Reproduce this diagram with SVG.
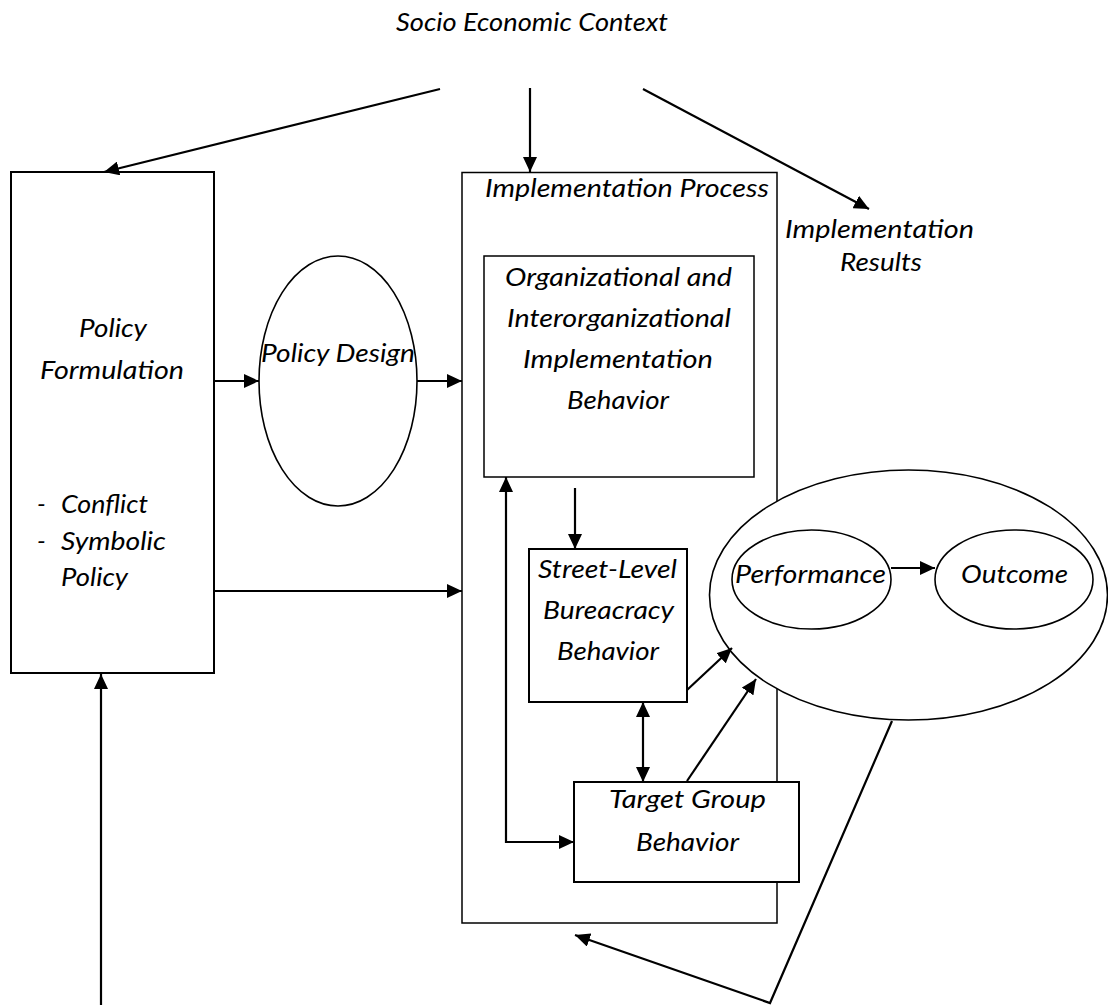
<svg xmlns="http://www.w3.org/2000/svg" width="1108" height="1005" viewBox="0 0 1108 1005">
<style>
  .t { font-family: Lato, "Open Sans", "Liberation Sans", sans-serif; font-style: italic; font-size: 25px; fill: #000; }
  .box { fill: #fff; stroke: #000; stroke-width: 2; }
  .thin { fill: #fff; stroke: #000; stroke-width: 1.5; }
  .ell { fill: #fff; stroke: #000; stroke-width: 1.6; }
  .c { fill: none; stroke: #000; stroke-width: 2.2; }
  .ah { marker-end: url(#ah); }
</style>
<defs>
  <marker id="ah" markerWidth="16" markerHeight="14" refX="15" refY="7" orient="auto-start-reverse" markerUnits="userSpaceOnUse">
    <path d="M0,0 L15,7 L0,14 z" fill="#000"/>
  </marker>
</defs>
<rect width="1108" height="1005" fill="#fff"/>

<g id="title">
  <text class="t" x="396" y="31" textLength="272" lengthAdjust="spacingAndGlyphs">Socio Economic Context</text>
</g>

<g id="policy-formulation">
  <rect class="box" x="11" y="172" width="203" height="501"/>
  <text class="t" x="79" y="337" textLength="68" lengthAdjust="spacingAndGlyphs">Policy</text>
  <text class="t" x="40" y="379" textLength="144" lengthAdjust="spacingAndGlyphs">Formulation</text>
  <text class="t" x="37" y="513">-</text>
  <text class="t" x="61" y="513" textLength="87" lengthAdjust="spacingAndGlyphs">Conflict</text>
  <text class="t" x="37" y="550">-</text>
  <text class="t" x="61" y="550" textLength="105" lengthAdjust="spacingAndGlyphs">Symbolic</text>
  <text class="t" x="61" y="586" textLength="67" lengthAdjust="spacingAndGlyphs">Policy</text>
</g>

<g id="implementation-process">
  <rect class="thin" x="462" y="172.5" width="315" height="750.5"/>
  <text class="t" x="485" y="197" textLength="284" lengthAdjust="spacingAndGlyphs">Implementation Process</text>
</g>

<g id="org-behavior">
  <rect class="thin" x="484" y="256" width="270" height="221"/>
  <text class="t" x="505" y="286" textLength="227" lengthAdjust="spacingAndGlyphs">Organizational and</text>
  <text class="t" x="507" y="327" textLength="224" lengthAdjust="spacingAndGlyphs">Interorganizational</text>
  <text class="t" x="523" y="368" textLength="190" lengthAdjust="spacingAndGlyphs">Implementation</text>
  <text class="t" x="567" y="409" textLength="102" lengthAdjust="spacingAndGlyphs">Behavior</text>
</g>

<g id="street-level">
  <rect class="box" x="529" y="549" width="158" height="153"/>
  <text class="t" x="538" y="578" textLength="139" lengthAdjust="spacingAndGlyphs">Street-Level</text>
  <text class="t" x="543" y="619" textLength="131" lengthAdjust="spacingAndGlyphs">Bureacracy</text>
  <text class="t" x="557" y="660" textLength="102" lengthAdjust="spacingAndGlyphs">Behavior</text>
</g>

<g id="target-group">
  <rect class="box" x="574" y="782" width="225" height="100"/>
  <text class="t" x="609" y="808" textLength="157" lengthAdjust="spacingAndGlyphs">Target Group</text>
  <text class="t" x="636" y="851" textLength="103" lengthAdjust="spacingAndGlyphs">Behavior</text>
</g>

<g id="policy-design">
  <ellipse class="ell" cx="338" cy="381" rx="79" ry="125"/>
  <text class="t" x="261" y="362" textLength="154" lengthAdjust="spacingAndGlyphs">Policy Design</text>
</g>

<g id="implementation-results">
  <text class="t" x="785" y="238" textLength="189" lengthAdjust="spacingAndGlyphs">Implementation</text>
  <text class="t" x="840" y="271" textLength="82" lengthAdjust="spacingAndGlyphs">Results</text>
  <ellipse class="ell" cx="908.5" cy="595" rx="199" ry="125"/>
</g>

<g id="performance">
  <ellipse class="ell" cx="811.5" cy="579.5" rx="79.5" ry="49.5"/>
  <text class="t" x="735" y="583" textLength="151" lengthAdjust="spacingAndGlyphs">Performance</text>
</g>

<g id="outcome">
  <ellipse class="ell" cx="1014" cy="579.5" rx="79" ry="49.5"/>
  <text class="t" x="961" y="583" textLength="107" lengthAdjust="spacingAndGlyphs">Outcome</text>
</g>

<g id="connectors">
  <line class="c ah" x1="440" y1="89" x2="104" y2="172"/>
  <line class="c ah" x1="530" y1="88" x2="530" y2="172"/>
  <line class="c ah" x1="643" y1="89" x2="869" y2="209"/>
  <line class="c ah" x1="214" y1="381" x2="259" y2="381"/>
  <line class="c ah" x1="417" y1="381" x2="462" y2="381"/>
  <line class="c ah" x1="214" y1="591" x2="462" y2="591"/>
  <line class="c ah" x1="575" y1="488" x2="575" y2="549"/>
  <path class="c" d="M506,477 V842 H574" marker-start="url(#ah)" marker-end="url(#ah)"/>
  <line class="c" x1="643" y1="702" x2="643" y2="782" marker-start="url(#ah)" marker-end="url(#ah)"/>
  <line class="c ah" x1="687" y1="690" x2="732" y2="648"/>
  <line class="c ah" x1="687" y1="781" x2="756" y2="679"/>
  <line class="c ah" x1="891" y1="568" x2="935" y2="568"/>
  <path class="c ah" d="M892,721 L770,1003 L575,935"/>
  <line class="c ah" x1="101" y1="1005" x2="101" y2="674"/>
</g>
</svg>
